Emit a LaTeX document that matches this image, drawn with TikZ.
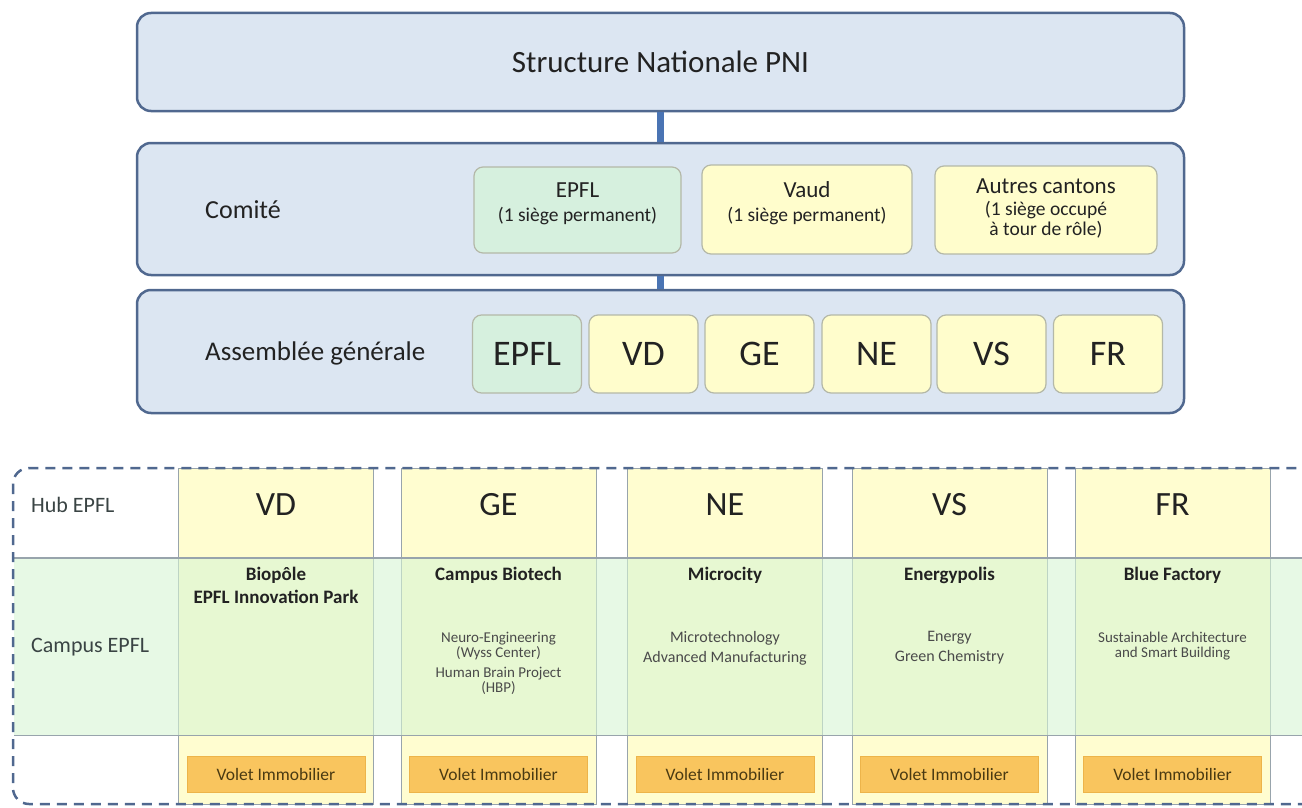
\documentclass[tikz,border=0pt]{standalone}
\usepackage{fontspec}
\setmainfont{Carlito}
\definecolor{bluefill}{HTML}{DCE6F2}
\definecolor{bluebd}{HTML}{50688F}
\definecolor{connblue}{HTML}{4A74B4}
\definecolor{mint}{HTML}{D6F0DE}
\definecolor{ylw}{HTML}{FFFDCC}
\definecolor{boxbd}{HTML}{B4B8A8}
\definecolor{colyl}{HTML}{FFFDD0}
\definecolor{colbd}{HTML}{98A4AC}
\definecolor{bandgr}{RGB}{215,245,212}
\definecolor{orng}{HTML}{F9C55E}
\definecolor{orngbd}{HTML}{EDB44A}
\definecolor{txt}{HTML}{222222}
\definecolor{lbl}{HTML}{3A4444}
\definecolor{small}{HTML}{4A4A4A}
\definecolor{volettxt}{HTML}{4A3A12}
\begin{document}
\begin{tikzpicture}[x=1pt,y=-1pt,
  bluebox/.style={draw=bluebd, line width=2.5pt, fill=bluefill, rounded corners=14pt, minimum width=1047pt, inner sep=0pt},
  mintbox/.style={draw=boxbd, line width=1.2pt, fill=mint, rounded corners=9pt, inner sep=0pt, text=txt},
  ylwbox/.style={draw=boxbd, line width=1.2pt, fill=ylw, rounded corners=9pt, inner sep=0pt, text=txt},
  conn/.style={draw=connblue, line width=7pt},
  lab/.style={anchor=west, inner sep=0pt, text=txt},
  sub/.style={inner sep=0pt, align=center, text=txt},
  col/.style={draw=colbd, line width=1pt, fill=colyl, minimum width=195pt, minimum height=336pt, inner sep=0pt},
  hub/.style={inner sep=0pt, text=txt, font=\fontsize{34}{40}\selectfont},
  ctitle/.style={inner sep=0pt, anchor=north, align=center, text=txt, font=\bfseries\fontsize{19}{23}\selectfont},
  cdet/.style={inner sep=0pt, anchor=north, align=center, text=small, font=\fontsize{15}{15}\selectfont},
  volet/.style={draw=orngbd, line width=1pt, fill=orng, minimum width=178pt, minimum height=36pt, inner sep=0pt, text=volettxt, font=\fontsize{17.5}{20}\selectfont},
  rowlab/.style={anchor=west, inner sep=0pt, text=lbl, font=\fontsize{22}{26}\selectfont}
]
\useasboundingbox (0,0) rectangle (1302,808);
\begin{scope}
\clip (0,0) rectangle (1302,808);
% ---------- upper structure ----------
\node[bluebox, minimum height=98pt] (pni) at (660.5,62) {};
\node[inner sep=0pt, font=\fontsize{31}{36}\selectfont, text=txt] (pnit) at (pni.center) {Structure Nationale PNI};
\node[bluebox, minimum height=132pt] (comite) at (660.5,209) {};
\node[bluebox, minimum height=123pt] (ag) at (660.5,351.5) {};
\draw[conn] (pni.south) -- (comite.north);
\draw[conn] (comite.south) -- (ag.north);
\node[lab, font=\fontsize{26}{30}\selectfont] (comlab) at (205,210) {Comité};
\node[lab, font=\fontsize{27}{30}\selectfont] (aglab) at (205,353) {Assemblée générale};
% comite members
\node[mintbox, minimum width=207pt, minimum height=86pt] (cepfl) at (577.5,210) {};
\node[ylwbox, minimum width=210pt, minimum height=89pt] (cvaud) at (807,209.5) {};
\node[ylwbox, minimum width=222pt, minimum height=88pt] (cautres) at (1046,210) {};
\node[sub, font=\fontsize{23}{26}\selectfont] (tepfl) at (577.5,190) {EPFL};
\node[sub, font=\fontsize{19.5}{22}\selectfont] (sepfl) at (577.5,216) {(1 siège permanent)};
\node[sub, font=\fontsize{23}{26}\selectfont] (tvaud) at (807,190) {Vaud};
\node[sub, font=\fontsize{19.5}{22}\selectfont] (svaud) at (807,216) {(1 siège permanent)};
\node[sub, font=\fontsize{23}{26}\selectfont] (tautres) at (1046,186) {Autres cantons};
\node[sub, font=\fontsize{19.5}{20}\selectfont] (sautres) at (1046,220) {(1 siège occupé\\à tour de rôle)};
% assemblee members
\node[mintbox, minimum width=109pt, minimum height=78pt, font=\fontsize{36}{40}\selectfont] (aepfl) at (527,354) {EPFL};
\node[ylwbox, minimum width=109pt, minimum height=78pt, font=\fontsize{36}{40}\selectfont] (avd) at (643.5,354) {VD};
\node[ylwbox, minimum width=109pt, minimum height=78pt, font=\fontsize{36}{40}\selectfont] (age) at (759.5,354) {GE};
\node[ylwbox, minimum width=109pt, minimum height=78pt, font=\fontsize{36}{40}\selectfont] (ane) at (876.5,354) {NE};
\node[ylwbox, minimum width=109pt, minimum height=78pt, font=\fontsize{36}{40}\selectfont] (avs) at (991.5,354) {VS};
\node[ylwbox, minimum width=109pt, minimum height=78pt, font=\fontsize{36}{40}\selectfont] (afr) at (1108,354) {FR};
% ---------- lower table ----------
\node[col] (colvd) at (276,636) {};
\node[col] (colge) at (498.5,636) {};
\node[col] (colne) at (725,636) {};
\node[col] (colvs) at (949.5,636) {};
\node[col] (colfr) at (1172.5,636) {};
\node[fill=bandgr, fill opacity=0.6, minimum width=1320pt, minimum height=177pt, inner sep=0pt, anchor=north west] (band) at (14,558) {};
\draw[colbd, line width=1.6pt] (band.north west) -- (band.north east);
\draw[colbd, line width=1.6pt] (band.south west) -- (band.south east);
\draw[bluebd, line width=2.5pt, dash pattern=on 10pt off 7pt, rounded corners=16pt] (13,468) rectangle (1340,804);
\node[rowlab] (hublab) at (31,505) {Hub EPFL};
\node[rowlab] (camplab) at (31,647) {Campus EPFL};
% hub
\node[hub] (hvd) at (276,505) {VD};
\node[hub] (hge) at (498.5,505) {GE};
\node[hub] (hne) at (725,505) {NE};
\node[hub] (hvs) at (949.5,505) {VS};
\node[hub] (hfr) at (1172.5,505) {FR};
% campus
\node[ctitle] (tvd) at (276,567) {Biopôle\\EPFL Innovation Park};
\node[ctitle] (tge) at (498.5,567) {Campus Biotech};
\node[ctitle] (tne) at (725,567) {Microcity};
\node[ctitle] (tvs) at (949.5,567) {Energypolis};
\node[ctitle] (tfr) at (1172.5,567) {Blue Factory};
\node[cdet] (dge) at (498.5,632) {Neuro-Engineering\\(Wyss Center)\\[5pt]Human Brain Project\\(HBP)};
\node[cdet, font=\fontsize{16}{20}\selectfont] (dne) at (725,631) {Microtechnology\\Advanced Manufacturing};
\node[cdet, font=\fontsize{16}{20}\selectfont] (dvs) at (949.5,631) {Energy\\Green Chemistry};
\node[cdet] (dfr) at (1172.5,632) {Sustainable Architecture\\and Smart Building};
% volet
\node[volet] (vvd) at (276,774) {Volet Immobilier};
\node[volet] (vge) at (498.5,774) {Volet Immobilier};
\node[volet] (vne) at (725,774) {Volet Immobilier};
\node[volet] (vvs) at (949.5,774) {Volet Immobilier};
\node[volet] (vfr) at (1172.5,774) {Volet Immobilier};
\end{scope}
\end{tikzpicture}
\end{document}
